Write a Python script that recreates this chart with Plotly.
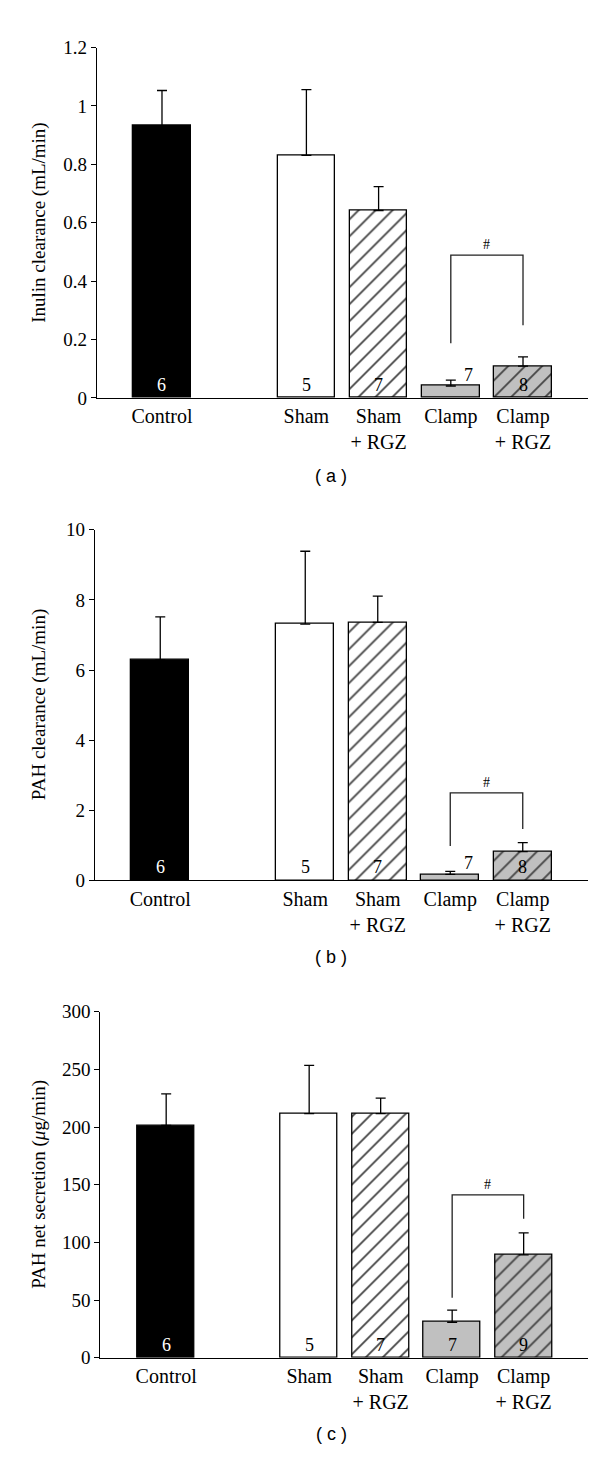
import plotly.graph_objects as go

# ---------------- data ----------------
categories = ["Control", "Sham", "Sham<br>+ RGZ", "Clamp", "Clamp<br>+ RGZ"]
x_pos = [0, 2, 3, 4, 5]

inulin_mean = [0.933, 0.831, 0.642, 0.041, 0.109]
inulin_err = [0.120, 0.225, 0.082, 0.020, 0.032]
inulin_n = ["6", "5", "7", "7", "8"]
inulin_bracket = [0.187, 0.489, 0.249]  # left leg bottom, top, right leg bottom

pah_clear_mean = [6.29, 7.31, 7.36, 0.17, 0.82]
pah_clear_err = [1.23, 2.08, 0.75, 0.09, 0.26]
pah_clear_n = ["6", "5", "7", "7", "8"]
pah_clear_bracket = [0.98, 2.50, 1.47]

pah_sec_mean = [201.4, 211.7, 211.7, 30.8, 89.2]
pah_sec_err = [27.4, 41.9, 13.4, 10.5, 19.1]
pah_sec_n = ["6", "5", "7", "7", "9"]
pah_sec_bracket = [52.1, 141.3, 120.5]

bar_colors = ["#000000", "#ffffff", "#ffffff", "#c0c0c0", "#c0c0c0"]
bar_patterns = ["", "", "/", "", "/"]
n_colors = ["#ffffff", "#000000", "#000000", "#000000", "#000000"]

W, H = 600, 1462
SERIF = "Liberation Serif, Times New Roman, serif"
SANS = "Liberation Sans, Arial, sans-serif"

panels = [
    dict(mean=inulin_mean, err=inulin_err, n=inulin_n, br=inulin_bracket,
         title="Inulin clearance (mL/min)", yrange=[0, 1.2], dtick=0.2,
         top=30, bottom=385.5, left=89, right=580, xr=[-0.9, 5.9],
         clamp_beside=True, label="( a )", label_y=465),
    dict(mean=pah_clear_mean, err=pah_clear_err, n=pah_clear_n, br=pah_clear_bracket,
         title="PAH clearance (mL/min)", yrange=[0, 10], dtick=2,
         top=519.3, bottom=875, left=87, right=580, xr=[-0.9, 5.9],
         clamp_beside=True, label="( b )", label_y=953),
    dict(mean=pah_sec_mean, err=pah_sec_err, n=pah_sec_n, br=pah_sec_bracket,
         title="PAH net secretion (<i>μ</i>g/min)", yrange=[0, 300], dtick=50,
         top=1008.3, bottom=1359.3, left=92.4, right=580, xr=[-0.92, 5.9],
         clamp_beside=False, label="( c )", label_y=1437),
]

fig = go.Figure()
annotations = []
layout_axes = {}

for i, p in enumerate(panels):
    k = "" if i == 0 else str(i + 1)
    xa, ya = "x" + k, "y" + k
    fig.add_trace(go.Bar(
        x=x_pos, y=p["mean"], width=0.8, xaxis=xa, yaxis=ya,
        marker=dict(color=bar_colors, line=dict(color="black", width=1.3),
                    pattern=dict(shape=bar_patterns, fgcolor="black", fgopacity=1,
                                 size=12, solidity=0.15, fillmode="overlay")),
        error_y=dict(type="data", array=p["err"], arrayminus=[0] * len(p["err"]),
                     symmetric=False, color="black", thickness=1.3, width=5),
        showlegend=False, hoverinfo="skip",
    ))
    br = p["br"]
    fig.add_trace(go.Scatter(
        x=[x_pos[3], x_pos[3], x_pos[4], x_pos[4]], y=[br[0], br[1], br[1], br[2]],
        mode="lines", line=dict(color="#222222", width=1.3), xaxis=xa, yaxis=ya,
        showlegend=False, hoverinfo="skip",
    ))
    annotations.append(dict(x=(x_pos[3] + x_pos[4]) / 2, y=br[1], xref=xa, yref=ya,
                            text="#", showarrow=False, yanchor="bottom", yshift=1,
                            font=dict(family=SERIF, size=14, color="black")))
    for j in range(len(x_pos)):
        if j == 3 and p["clamp_beside"]:
            annotations.append(dict(x=x_pos[j] + 0.25, y=p["mean"][j], xref=xa, yref=ya,
                                    text=p["n"][j], showarrow=False, yanchor="middle",
                                    yshift=11, font=dict(family=SERIF, size=18, color="black")))
        else:
            annotations.append(dict(x=x_pos[j], y=0, xref=xa, yref=ya,
                                    text=p["n"][j], showarrow=False, yanchor="middle",
                                    yshift=13, font=dict(family=SERIF, size=18, color=n_colors[j])))
    ydom = [1 - p["bottom"] / H, 1 - p["top"] / H]
    annotations.append(dict(x=31 / W, y=(ydom[0] + ydom[1]) / 2, xref="paper", yref="paper",
                            text=p["title"], textangle=-90, showarrow=False,
                            xanchor="center", yanchor="middle",
                            font=dict(family=SERIF, size=19, color="black")))
    annotations.append(dict(x=323 / W, y=1 - p["label_y"] / H, xref="paper", yref="paper",
                            text=p["label"], showarrow=False, xanchor="center", yanchor="middle",
                            font=dict(family=SANS, size=18, color="black")))
    layout_axes["xaxis" + k] = dict(
        domain=[p["left"] / W, p["right"] / W], range=p["xr"], anchor=ya,
        tickmode="array", tickvals=x_pos, ticktext=categories, ticks="",
        showline=True, linecolor="black", linewidth=1.3, showgrid=False, zeroline=False,
        tickfont=dict(family=SERIF, size=20, color="black"), ticklabelstandoff=0,
        fixedrange=True,
    )
    layout_axes["yaxis" + k] = dict(
        domain=ydom, range=p["yrange"], anchor=xa, dtick=p["dtick"], tick0=0,
        ticks="outside", ticklen=5, tickwidth=1.3, tickcolor="black",
        showline=True, linecolor="black", linewidth=1.3, showgrid=False, zeroline=False,
        tickfont=dict(family=SERIF, size=19, color="black"), fixedrange=True,
    )

fig.update_layout(
    width=W, height=H, margin=dict(l=0, r=0, t=0, b=0),
    paper_bgcolor="white", plot_bgcolor="white",
    annotations=annotations, bargap=0, **layout_axes,
)

fig.write_html("out.html", config=dict(displayModeBar=False))
